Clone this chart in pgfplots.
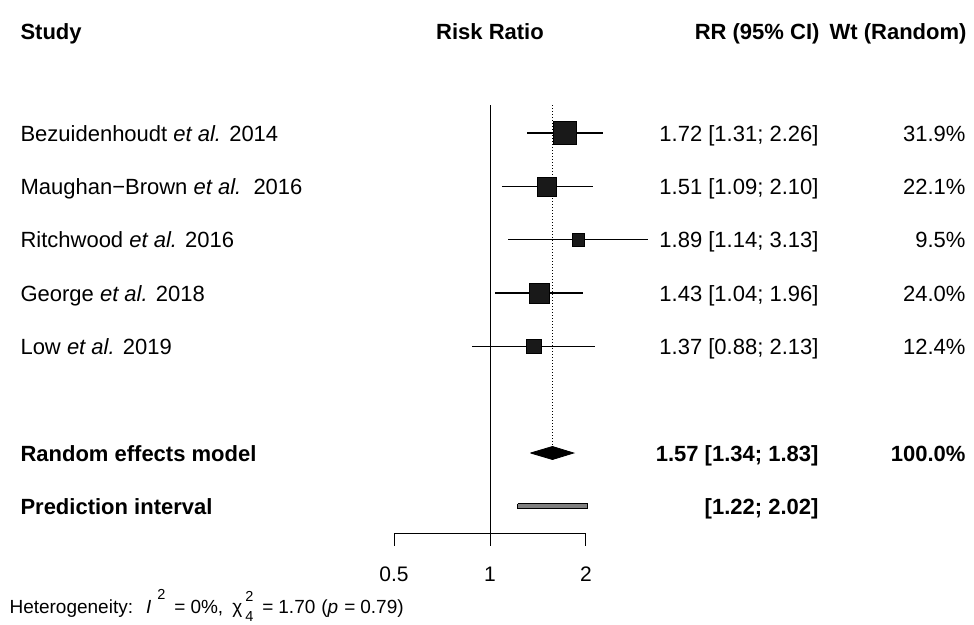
\documentclass[border=0pt]{standalone}
\usepackage{fontspec}
\setmainfont{Liberation Sans}
\usepackage{pgfplots}
\pgfplotsset{compat=1.18}
\newcommand{\fs}{\fontsize{22}{26}\selectfont}
\newcommand{\fh}{\fontsize{19}{23}\selectfont}
\newcommand{\fsup}{\fontsize{14.5}{14.5}\selectfont}
\begin{document}
\begin{tikzpicture}
% ---------- text layer (pixel coordinates) ----------
\begin{axis}[at={(0,0)}, anchor=south west, width=974pt, height=623pt, scale only axis,
  xmin=0, xmax=974, ymin=0, ymax=623, y dir=reverse, axis lines=none, clip=false,
  every node/.style={inner sep=0pt, outer sep=0pt}]
\draw[draw=none] (axis cs:0,0) rectangle (axis cs:974,623);
% headers
\node[anchor=base west, font=\fs\bfseries] at (axis cs:17,39) {Study};
\node[anchor=base, font=\fs\bfseries] at (axis cs:490,39) {Risk Ratio};
\node[anchor=base east, font=\fs\bfseries] at (axis cs:823,39) {RR (95\% CI)};
\node[anchor=base east, font=\fs\bfseries] at (axis cs:970,39) {Wt (Random)};
% study labels
\node[anchor=base west, font=\fs] at (axis cs:17,141) {Bezuidenhoudt \textit{et al.} 2014};
\node[anchor=base west, font=\fs] at (axis cs:17,194.3) {Maughan−Brown \textit{et al.}\ \ 2016};
\node[anchor=base west, font=\fs] at (axis cs:17,247.7) {Ritchwood \textit{et al.} 2016};
\node[anchor=base west, font=\fs] at (axis cs:17,301) {George \textit{et al.} 2018};
\node[anchor=base west, font=\fs] at (axis cs:17,354.3) {Low \textit{et al.} 2019};
\node[anchor=base west, font=\fs\bfseries] at (axis cs:17,461) {Random effects model};
\node[anchor=base west, font=\fs\bfseries] at (axis cs:17,514.3) {Prediction interval};
% RR column
\node[anchor=base east, font=\fs] at (axis cs:822,141) {1.72 [1.31; 2.26]};
\node[anchor=base east, font=\fs] at (axis cs:822,194.3) {1.51 [1.09; 2.10]};
\node[anchor=base east, font=\fs] at (axis cs:822,247.7) {1.89 [1.14; 3.13]};
\node[anchor=base east, font=\fs] at (axis cs:822,301) {1.43 [1.04; 1.96]};
\node[anchor=base east, font=\fs] at (axis cs:822,354.3) {1.37 [0.88; 2.13]};
\node[anchor=base east, font=\fs\bfseries] at (axis cs:822,461) {1.57 [1.34; 1.83]};
\node[anchor=base east, font=\fs\bfseries] at (axis cs:822,514.3) {[1.22; 2.02]};
% weights
\node[anchor=base east, font=\fs] at (axis cs:969,141) {31.9\%};
\node[anchor=base east, font=\fs] at (axis cs:969,194.3) {22.1\%};
\node[anchor=base east, font=\fs] at (axis cs:969,247.7) {9.5\%};
\node[anchor=base east, font=\fs] at (axis cs:969,301) {24.0\%};
\node[anchor=base east, font=\fs] at (axis cs:969,354.3) {12.4\%};
\node[anchor=base east, font=\fs\bfseries] at (axis cs:969,461) {100.0\%};
% heterogeneity
\node[anchor=base west, font=\fh] at (axis cs:6,613) {Heterogeneity:\hspace{13pt}\textit{I}\hspace{6pt}\raisebox{0.7em}{\fsup 2}\hspace{9pt}=\hspace{5pt}0\%,\hspace{9pt}χ\hspace{3pt}\rlap{\raisebox{0.6em}{\fsup 2}}\raisebox{-0.45em}{\fsup 4}\hspace{9pt}=\hspace{5pt}1.70\hspace{6pt}(\textit{p}\hspace{6pt}=\hspace{5pt}0.79)};
\end{axis}
% ---------- forest layer (log scale) ----------
\begin{axis}[at={(0,0)}, anchor=south west, width=974pt, height=623pt, scale only axis,
  xmode=log, log basis x=2, xmin=0.029072, xmax=32.94, ymin=0, ymax=623, y dir=reverse,
  axis lines=none, clip=false,
  every node/.style={inner sep=0pt, outer sep=0pt}]
% reference lines
\addplot[black, line width=1pt] coordinates {(1,105) (1,533.3)};
\addplot[black, line width=1pt, dotted] coordinates {(1.57,105) (1.57,446.5)};
% CIs
\addplot[black, line width=1.1pt] coordinates {(1.31,133) (2.26,133)};
\addplot[black, line width=1.1pt] coordinates {(1.09,186.3) (2.10,186.3)};
\addplot[black, line width=1.1pt] coordinates {(1.14,239.7) (3.13,239.7)};
\addplot[black, line width=1.1pt] coordinates {(1.04,293) (1.96,293)};
\addplot[black, line width=1.1pt] coordinates {(0.88,346.3) (2.13,346.3)};
% squares (size by weight)
\addplot[only marks, mark=square*, mark size=11.5pt, color=black, fill=black!90] coordinates {(1.72,133)};
\addplot[only marks, mark=square*, mark size=9.55pt, color=black, fill=black!90] coordinates {(1.51,186.3)};
\addplot[only marks, mark=square*, mark size=6.25pt, color=black, fill=black!90] coordinates {(1.89,239.7)};
\addplot[only marks, mark=square*, mark size=9.95pt, color=black, fill=black!90] coordinates {(1.43,293)};
\addplot[only marks, mark=square*, mark size=7.15pt, color=black, fill=black!90] coordinates {(1.37,346.3)};
% diamond
\addplot[draw=black, fill=black, line width=0.8pt] coordinates {(1.34,453) (1.57,446.5) (1.83,453) (1.57,459.5) (1.34,453)};
% prediction interval
\addplot[draw=black, fill=black!50, line width=0.8pt] coordinates {(1.22,503.8) (2.02,503.8) (2.02,508.8) (1.22,508.8) (1.22,503.8)};
% x axis
\addplot[black, line width=1pt] coordinates {(0.5,533.3) (2,533.3)};
\addplot[black, line width=1pt] coordinates {(0.5,533.3) (0.5,546)};
\addplot[black, line width=1pt] coordinates {(1,533.3) (1,546)};
\addplot[black, line width=1pt] coordinates {(2,533.3) (2,546)};
\node[anchor=base, font=\fontsize{21}{25}\selectfont] at (axis cs:0.5,581.5) {0.5};
\node[anchor=base, font=\fontsize{21}{25}\selectfont] at (axis cs:1,581.5) {1};
\node[anchor=base, font=\fontsize{21}{25}\selectfont] at (axis cs:2,581.5) {2};
\end{axis}
\end{tikzpicture}
\end{document}
